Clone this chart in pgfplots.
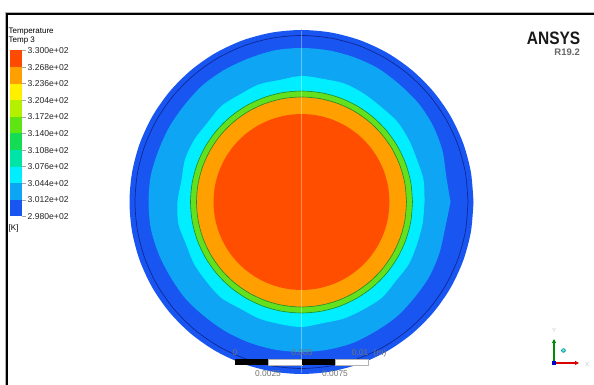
\documentclass[border=0pt]{standalone}
\usepackage{pgfplots}
\pgfplotsset{compat=1.18}
\usepackage{pgfplotstable}
\usepackage{fontspec}
\setmainfont{Liberation Sans}
\usetikzlibrary{arrows.meta}

\definecolor{b1}{RGB}{25,85,240}
\definecolor{b2}{RGB}{15,165,245}
\definecolor{b3}{RGB}{0,238,255}
\definecolor{b4}{RGB}{0,228,165}
\definecolor{b5}{RGB}{20,220,85}
\definecolor{b6}{RGB}{95,228,20}
\definecolor{b7}{RGB}{180,240,0}
\definecolor{b8}{RGB}{255,240,0}
\definecolor{b9}{RGB}{255,160,0}
\definecolor{b10}{RGB}{255,75,0}
\definecolor{pRed}{RGB}{255,78,0}
\definecolor{pOrange}{RGB}{255,160,0}
\definecolor{pGreen}{RGB}{100,225,30}
\definecolor{pGreenLine}{RGB}{30,140,40}
\definecolor{pLine}{RGB}{15,40,150}

% boundaries of the contour bands, polar: angle (deg), radius (px)
\pgfplotstableread{
a   rout  rline rlb  rcy  rgo  rgi  rred
0   172   166.5 149  123  111  105  88
10  172   166.5 147  124  111  105  88
20  172   166.5 150  123  111  105  88
30  172   166.5 152  124  111  105  88
40  172   166.5 153  125  111  105  88
50  172   166.5 153  124  111  105  88
60  172   166.5 154  125  111  105  88
70  172   166.5 154  126  111  105  88
80  172   166.5 154  125  111  105  88
90  172   166.5 154  126  111  105  88
100 172   166.5 154  124  111  105  88
110 172   166.5 153  125  111  105  88
120 172   166.5 153  124  111  105  88
130 172   166.5 153  125  111  105  88
140 172   166.5 152  123  111  105  88
150 172   166.5 152  124  111  105  88
160 172   166.5 152  124  111  105  88
170 172   166.5 153  122  111  105  88
180 172   166.5 153  124  111  105  88
190 172   166.5 153  125  111  105  88
200 172   166.5 152  123  111  105  88
210 172   166.5 151  124  111  105  88
220 172   166.5 151  124  111  105  88
230 172   166.5 150  125  111  105  88
240 172   166.5 150  123  111  105  88
250 172   166.5 150  124  111  105  88
260 172   166.5 150  124  111  105  88
270 172   166.5 150  125  111  105  88
280 172   166.5 150  123  111  105  88
290 172   166.5 150  124  111  105  88
300 172   166.5 149  124  111  105  88
310 172   166.5 149  125  111  105  88
320 172   166.5 148  123  111  105  88
330 172   166.5 148  124  111  105  88
340 172   166.5 147  123  111  105  88
350 172   166.5 146  123  111  105  88
360 172   166.5 149  123  111  105  88
}\bnd

\begin{document}
\begin{tikzpicture}
\useasboundingbox (0,0) rectangle (594pt,385pt);
\fill[white] (0,0) rectangle (594pt,385pt);

\begin{axis}[at={(301.5pt,183pt)}, anchor=origin, x=1pt, y=1pt,
  xmin=-175, xmax=175, ymin=-175, ymax=175, hide axis, clip=false]
  \addplot[draw=none, fill=b1, smooth, data cs=polar] table[x=a,y=rout]{\bnd};
  \addplot[draw=pLine, line width=0.7pt, smooth, data cs=polar] table[x=a,y=rline]{\bnd};
  \addplot[draw=none, fill=b2, smooth, data cs=polar] table[x=a,y=rlb]{\bnd};
  \addplot[draw=none, fill=b3, smooth, data cs=polar] table[x=a,y=rcy]{\bnd};
  \addplot[draw=pGreenLine, line width=0.6pt, fill=pGreen, smooth, data cs=polar] table[x=a,y=rgo]{\bnd};
  \addplot[draw=pGreenLine, line width=0.6pt, fill=pOrange, smooth, data cs=polar] table[x=a,y=rgi]{\bnd};
  \addplot[draw=none, fill=pRed, smooth, data cs=polar] table[x=a,y=rred]{\bnd};
  \addplot[draw=white, opacity=0.35, line width=0.6pt] coordinates {(0,-171) (0,171)};
\end{axis}

\begin{scope}[x=1pt,y=-1pt,yshift=385pt]
  % frame
  \draw[gray!60, line width=0.8pt] (5,400) -- (5,12) -- (600,12);
  \draw[black, line width=1.6pt] (6.8,400) -- (6.8,13.8) -- (600,13.8);

  % legend
  \node[anchor=base west, inner sep=0, font=\fontsize{8}{9}\selectfont] at (8.5,34) {Temperature};
  \node[anchor=base west, inner sep=0, font=\fontsize{8}{9}\selectfont] at (8.5,43) {Temp 3};
  \foreach \c [count=\i from 0] in {b10,b9,b8,b7,b6,b5,b4,b3,b2,b1}
    \fill[\c] (10,{50.5+16.6*\i}) rectangle (22,{50.5+16.6*(\i+1)});
  \foreach \t [count=\i from 0] in {3.300e+02,3.268e+02,3.236e+02,3.204e+02,3.172e+02,3.140e+02,3.108e+02,3.076e+02,3.044e+02,3.012e+02,2.980e+02}{
    \draw[gray!70, line width=0.4pt] (22,{50.5+16.6*\i}) -- (26,{50.5+16.6*\i});
    \node[anchor=west, inner sep=0, text=black!85, font=\fontsize{8.6}{10}\selectfont] at (27.5,{50.5+16.6*\i}) {\t};
  }
  \node[anchor=base west, inner sep=0, font=\fontsize{8}{9}\selectfont] at (8.5,231) {[K]};

  % logo
  \node[anchor=base east, inner sep=0, text=black!90] at (580.5,44.5) {\scalebox{0.86}[1]{\fontsize{18}{20}\selectfont\bfseries ANSYS}};
  \node[anchor=base east, inner sep=0, text=black!60] at (580,56) {\fontsize{9.5}{10}\selectfont\bfseries R19.2};

  % scale bar
  \fill[black] (235,359) rectangle (268,365.5);
  \draw[gray!60, line width=0.4pt, fill=white] (268,359) rectangle (302,365.5);
  \fill[black] (302,359) rectangle (335,365.5);
  \draw[gray!60, line width=0.4pt, fill=white] (335,359) rectangle (368,365.5);
  \begin{scope}[every node/.style={inner sep=0, text=black!55, font=\fontsize{8.4}{10}\selectfont}]
    \node at (235,353) {0};
    \node at (302,353) {0.005};
    \node at (360,353) {0.01};
    \node at (380,353) {(m)};
    \node at (268,373.5) {0.0025};
    \node at (335,373.5) {0.0075};
  \end{scope}

  % triad
  \draw[green!55!black, line width=1.3pt, -{Triangle[length=4pt,width=4pt]}] (554,363) -- (554,339);
  \draw[red!85!black, line width=1.3pt, -{Triangle[length=4pt,width=4pt]}] (554,363) -- (579,363);
  \fill[blue!80!black] (552,361) rectangle (556,365);
  \shade[ball color=cyan!80!teal] (563.5,350.5) circle (2.2);
  \node[inner sep=0, text=gray!45, font=\fontsize{6}{7}\selectfont] at (587,364) {X};
  \node[inner sep=0, text=gray!45, font=\fontsize{6}{7}\selectfont] at (554,330) {Y};
\end{scope}
\end{tikzpicture}
\end{document}
